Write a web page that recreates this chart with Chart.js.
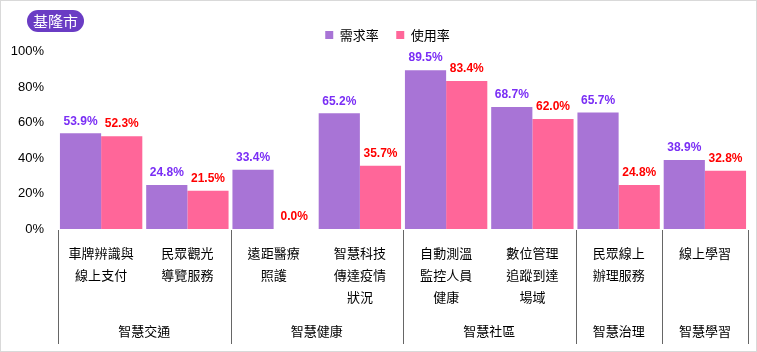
<!DOCTYPE html>
<html>
<head>
<meta charset="utf-8">
<script src="https://cdn.jsdelivr.net/npm/chart.js@4/dist/chart.umd.min.js"></script>
<style>
  html, body { margin: 0; padding: 0; background: #fff; }
  #wrap { position: relative; width: 755px; height: 350px; border: 1px solid #d9d9d9; }
  #badge { position: absolute; left: 26px; top: 9px; width: 57px; height: 22px; border-radius: 11px;
    background: #6a3cc4; color: #fff; font: 15px "Noto Sans CJK TC", sans-serif; line-height: 22px; text-align: center; }
  canvas { position: absolute; left: 0; top: 0; }
</style>
</head>
<body>
<div id="wrap">
  <canvas id="c" width="755" height="350"></canvas>
  <div id="badge">基隆市</div>
</div>
<script>
// 資料
const categories = [
  ["車牌辨識與", "線上支付"], ["民眾觀光", "導覽服務"],
  ["遠距醫療", "照護"], ["智慧科技", "傳達疫情", "狀況"],
  ["自動測溫", "監控人員", "健康"], ["數位管理", "追蹤到達", "場域"],
  ["民眾線上", "辦理服務"], ["線上學習"]
];
const demand = [53.9, 24.8, 33.4, 65.2, 89.5, 68.7, 65.7, 38.9];
const usage = [52.3, 21.5, 0.0, 35.7, 83.4, 62.0, 24.8, 32.8];
const groups = ["智慧交通", "智慧健康", "智慧社區", "智慧治理", "智慧學習"];
const groupSizes = [2, 2, 2, 1, 1];
const yTicks = [0, 20, 40, 60, 80, 100];

const CJK = '"Noto Sans CJK TC", sans-serif';
const NUM = '"Liberation Sans", Arial, sans-serif';

// 長條上方數值
const valueLabels = {
  id: "valueLabels",
  afterDatasetsDraw(chart) {
    const ctx = chart.ctx;
    ctx.save();
    ctx.font = "bold 12px " + NUM;
    ctx.textAlign = "center";
    ctx.textBaseline = "bottom";
    chart.data.datasets.forEach((ds, i) => {
      ctx.fillStyle = ds.labelColor;
      chart.getDatasetMeta(i).data.forEach((bar, j) => {
        ctx.fillText(ds.data[j].toFixed(1) + "%", bar.x, bar.y - 6);
      });
    });
    ctx.restore();
  }
};

// 分組分隔線與分組名稱
const groupAxis = {
  id: "groupAxis",
  afterDraw(chart) {
    const ctx = chart.ctx, x = chart.scales.x, a = chart.chartArea;
    const half = (x.getPixelForValue(1) - x.getPixelForValue(0)) / 2;
    ctx.save();
    ctx.strokeStyle = "#666";
    ctx.lineWidth = 1;
    ctx.font = "13px " + CJK;
    ctx.fillStyle = "#000";
    ctx.textAlign = "center";
    ctx.textBaseline = "middle";
    let idx = 0;
    const line = (px) => { ctx.beginPath(); ctx.moveTo(Math.round(px) + 0.5, a.bottom + 1); ctx.lineTo(Math.round(px) + 0.5, a.bottom + 115); ctx.stroke(); };
    line(x.getPixelForValue(0) - half);
    groups.forEach((g, k) => {
      const l = x.getPixelForValue(idx) - half;
      idx += groupSizes[k];
      const r = x.getPixelForValue(idx - 1) + half;
      line(r);
      ctx.fillText(g, (l + r) / 2, a.bottom + 102);
    });
    ctx.restore();
  }
};

// 圖例稍微右移
const legendShift = {
  id: "legendShift",
  afterLayout(chart) { chart.legend.left += 13; chart.legend.right += 13; }
};

new Chart(document.getElementById("c"), {
  type: "bar",
  data: {
    labels: categories,
    datasets: [
      { label: "需求率", data: demand, backgroundColor: "#a874d6", labelColor: "#7a2ef5",
        barPercentage: 1, categoryPercentage: 0.955 },
      { label: "使用率", data: usage, backgroundColor: "#ff6699", labelColor: "#ff0000",
        barPercentage: 1, categoryPercentage: 0.955 }
    ]
  },
  options: {
    responsive: false,
    animation: false,
    layout: { padding: { top: 10, right: 8, bottom: 0, left: 0 } },
    plugins: {
      legend: { position: "top", labels: { boxWidth: 8, boxHeight: 8, color: "#000", padding: 17.5, font: { size: 13, family: CJK } } },
      tooltip: { enabled: false }
    },
    scales: {
      x: {
        grid: { display: false, drawTicks: false },
        border: { display: false },
        ticks: { color: "#000", padding: 13, font: { size: 13, family: CJK, lineHeight: 1.7 }, maxRotation: 0, autoSkip: false },
        afterFit: (s) => { s.height = 122; }
      },
      y: {
        min: 0, max: 100,
        grid: { display: false, drawTicks: false },
        border: { display: false },
        afterBuildTicks: (s) => { s.ticks = yTicks.map((v) => ({ value: v })); },
        ticks: { color: "#000", padding: 14, font: { size: 13, family: NUM }, callback: (v) => v + "%" },
        afterFit: (s) => { s.width = 57; }
      }
    }
  },
  plugins: [valueLabels, groupAxis, legendShift]
});
</script>
</body>
</html>
